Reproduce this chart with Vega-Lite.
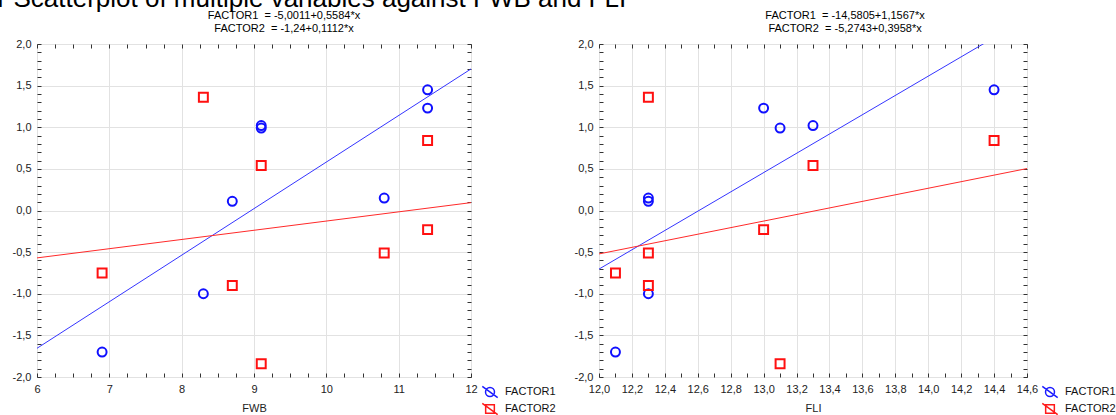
{
  "$schema": "https://vega.github.io/schema/vega-lite/v6.json",
  "padding": {"left": -3, "top": -15, "right": 4, "bottom": 2},
  "background": "white",
  "title": {
    "text": "r Scatterplot of multiple variables against FWB and FLI",
    "anchor": "start",
    "fontSize": 26,
    "fontWeight": "normal",
    "font": "Liberation Sans",
    "color": "#000000",
    "dx": -14,
    "offset": -2
  },
  "config": {
    "font": "Liberation Sans",
    "view": {"stroke": "#333333", "strokeWidth": 1},
    "axis": {
      "labelFont": "Liberation Sans",
      "labelFontSize": 11,
      "labelColor": "#222222",
      "titleFont": "Liberation Sans",
      "titleFontSize": 11,
      "titleFontWeight": "normal",
      "titleColor": "#222222",
      "domain": false,
      "tickColor": "#333333",
      "gridColor": "#e2e2e2",
      "labelFlush": false
    },
    "legend": {
      "orient": "none",
      "title": null,
      "symbolSize": 196,
      "symbolStrokeWidth": 1.5,
      "symbolFillColor": "transparent",
      "symbolOpacity": 1,
      "labelFontSize": 11,
      "labelFont": "Liberation Sans",
      "labelColor": "#111111",
      "rowPadding": -7,
      "labelOffset": 7
    }
  },
  "datasets": {
    "s": [
      {"FWB": 6.9, "FLI": 12.1, "FACTOR1": -1.70, "FACTOR2": -0.75},
      {"FWB": 8.3, "FLI": 12.3, "FACTOR1": -1.00, "FACTOR2": 1.36},
      {"FWB": 8.7, "FLI": 12.3, "FACTOR1": 0.11, "FACTOR2": -0.90},
      {"FWB": 9.1, "FLI": 13.3, "FACTOR1": 1.02, "FACTOR2": 0.54},
      {"FWB": 9.1, "FLI": 13.1, "FACTOR1": 0.99, "FACTOR2": -1.84},
      {"FWB": 10.8, "FLI": 12.3, "FACTOR1": 0.15, "FACTOR2": -0.51},
      {"FWB": 11.4, "FLI": 14.4, "FACTOR1": 1.45, "FACTOR2": 0.84},
      {"FWB": 11.4, "FLI": 13.0, "FACTOR1": 1.23, "FACTOR2": -0.23}
    ]
  },
  "spacing": 16,
  "resolve": {
    "scale": {"color": "independent", "shape": "independent"},
    "legend": {"color": "independent", "shape": "independent"}
  },
  "hconcat": [
    {
      "width": 434,
      "height": 333,
      "title": {
        "text": ["FACTOR1\u00a0 = -5,0011+0,5584*x", "FACTOR2\u00a0 = -1,24+0,1112*x"],
        "fontSize": 11,
        "fontWeight": "normal",
        "lineHeight": 13,
        "offset": 4,
        "frame": "bounds",
        "color": "#000000",
        "font": "Liberation Sans"
      },
      "data": {"name": "s"},
      "transform": [{"fold": ["FACTOR1", "FACTOR2"], "as": ["factor", "value"]}],
      "layer": [
        {
          "transform": [{"regression": "value", "on": "FWB", "groupby": ["factor"], "extent": [6, 12]}],
          "mark": {"type": "line", "clip": true, "strokeWidth": 1},
          "encoding": {
            "x": {
              "field": "FWB", "type": "quantitative",
              "scale": {"domain": [6, 12], "nice": false, "zero": false},
              "axis": {
                "orient": "bottom", "title": "FWB", "titlePadding": 8,
                "values": [6, 6.25, 6.5, 6.75, 7, 7.25, 7.5, 7.75, 8, 8.25, 8.5, 8.75, 9, 9.25, 9.5, 9.75, 10, 10.25, 10.5, 10.75, 11, 11.25, 11.5, 11.75, 12],
                "labelExpr": "abs(datum.value - round(datum.value)) < 0.001 ? format(datum.value, 'd') : ''",
                "grid": true,
                "gridOpacity": {"condition": {"test": "abs(datum.value - round(datum.value)) > 0.001", "value": 0}, "value": 1},
                "tickSize": -4,
                "labelPadding": 10,
                "labelOverlap": false
              }
            },
            "y": {
              "field": "value", "type": "quantitative",
              "scale": {"domain": [-2, 2], "nice": false, "zero": false},
              "axis": {
                "orient": "left", "title": null,
                "values": [-2, -1.9, -1.8, -1.7, -1.6, -1.5, -1.4, -1.3, -1.2, -1.1, -1, -0.9, -0.8, -0.7, -0.6, -0.5, -0.4, -0.3, -0.2, -0.1, 0, 0.1, 0.2, 0.3, 0.4, 0.5, 0.6, 0.7, 0.8, 0.9, 1, 1.1, 1.2, 1.3, 1.4, 1.5, 1.6, 1.7, 1.8, 1.9, 2],
                "labelExpr": "abs(datum.value*2 - round(datum.value*2)) < 0.001 ? replace(replace(format(datum.value, '.1f'), '.', ','), '\u2212', '-') : ''",
                "grid": true,
                "gridOpacity": {"condition": {"test": "abs(datum.value*2 - round(datum.value*2)) > 0.001", "value": 0}, "value": 1},
                "tickSize": -4,
                "labelPadding": 10,
                "labelOverlap": false
              }
            },
            "color": {
              "field": "factor", "type": "nominal",
              "scale": {"domain": ["FACTOR1", "FACTOR2"], "range": ["#3535ff", "#ff2a2a"]},
              "legend": null
            }
          }
        },
        {
          "mark": {"type": "point", "filled": false, "strokeWidth": 2, "size": 80, "opacity": 1},
          "encoding": {
            "x": {
              "field": "FWB", "type": "quantitative",
              "scale": {"domain": [6, 12], "nice": false, "zero": false},
              "axis": {
                "orient": "top", "title": null, "labels": false, "grid": false,
                "values": [6, 6.25, 6.5, 6.75, 7, 7.25, 7.5, 7.75, 8, 8.25, 8.5, 8.75, 9, 9.25, 9.5, 9.75, 10, 10.25, 10.5, 10.75, 11, 11.25, 11.5, 11.75, 12],
                "tickSize": -4
              }
            },
            "y": {
              "field": "value", "type": "quantitative",
              "scale": {"domain": [-2, 2], "nice": false, "zero": false},
              "axis": {
                "orient": "right", "title": null, "labels": false, "grid": false,
                "values": [-2, -1.9, -1.8, -1.7, -1.6, -1.5, -1.4, -1.3, -1.2, -1.1, -1, -0.9, -0.8, -0.7, -0.6, -0.5, -0.4, -0.3, -0.2, -0.1, 0, 0.1, 0.2, 0.3, 0.4, 0.5, 0.6, 0.7, 0.8, 0.9, 1, 1.1, 1.2, 1.3, 1.4, 1.5, 1.6, 1.7, 1.8, 1.9, 2],
                "tickSize": -4
              }
            },
            "color": {
              "field": "factor", "type": "nominal",
              "scale": {"domain": ["FACTOR1", "FACTOR2"], "range": ["#1010ff", "#ff1010"]},
              "legend": null
            },
            "shape": {
              "field": "factor", "type": "nominal",
              "scale": {"domain": ["FACTOR1", "FACTOR2"], "range": ["circle", "square"]},
              "legend": null
            }
          }
        },
        {
          "mark": {"type": "point", "filled": false, "strokeWidth": 1.5, "size": 10, "opacity": 0},
          "encoding": {
            "x": {"field": "FWB", "type": "quantitative", "scale": {"domain": [6, 12], "nice": false, "zero": false}, "axis": null},
            "y": {"field": "value", "type": "quantitative", "scale": {"domain": [-2, 2], "nice": false, "zero": false}, "axis": null},
            "color": {
              "field": "factor", "type": "nominal",
              "scale": {"domain": ["FACTOR1", "FACTOR2"], "range": ["#1a1aff", "#ff1a1a"]},
              "legend": {"legendX": 445, "legendY": 340}
            },
            "shape": {
              "field": "factor", "type": "nominal",
              "scale": {"domain": ["FACTOR1", "FACTOR2"], "range": ["M0.64,0A0.64,0.64,0,1,1,-0.64,0A0.64,0.64,0,1,1,0.64,0ZM-1.1,-0.8L1.1,0.8", "M-0.62,-0.62H0.62V0.62H-0.62ZM-1.1,-0.8L1.1,0.8"]},
              "legend": {"legendX": 445, "legendY": 340}
            }
          }
        }
      ],
      "resolve": {
        "axis": {"x": "independent", "y": "independent"},
        "scale": {"color": "independent", "shape": "independent"},
        "legend": {"color": "independent", "shape": "independent"}
      }
    },
    {
      "width": 428,
      "height": 333,
      "title": {
        "text": ["FACTOR1\u00a0 = -14,5805+1,1567*x", "FACTOR2\u00a0 = -5,2743+0,3958*x"],
        "fontSize": 11,
        "fontWeight": "normal",
        "lineHeight": 13,
        "offset": 4,
        "frame": "bounds",
        "color": "#000000",
        "font": "Liberation Sans"
      },
      "data": {"name": "s"},
      "transform": [{"fold": ["FACTOR1", "FACTOR2"], "as": ["factor", "value"]}],
      "layer": [
        {
          "transform": [{"regression": "value", "on": "FLI", "groupby": ["factor"], "extent": [12, 14.6]}],
          "mark": {"type": "line", "clip": true, "strokeWidth": 1},
          "encoding": {
            "x": {
              "field": "FLI", "type": "quantitative",
              "scale": {"domain": [12, 14.6], "nice": false, "zero": false},
              "axis": {
                "orient": "bottom", "title": "FLI", "titlePadding": 8,
                "values": [12, 12.1, 12.2, 12.3, 12.4, 12.5, 12.6, 12.7, 12.8, 12.9, 13, 13.1, 13.2, 13.3, 13.4, 13.5, 13.6, 13.7, 13.8, 13.9, 14, 14.1, 14.2, 14.3, 14.4, 14.5, 14.6],
                "labelExpr": "abs(datum.value*5 - round(datum.value*5)) < 0.001 ? replace(format(datum.value, '.1f'), '.', ',') : ''",
                "grid": true,
                "gridOpacity": {"condition": {"test": "abs(datum.value*5 - round(datum.value*5)) > 0.001", "value": 0}, "value": 1},
                "tickSize": -4,
                "labelPadding": 10,
                "labelOverlap": false
              }
            },
            "y": {
              "field": "value", "type": "quantitative",
              "scale": {"domain": [-2, 2], "nice": false, "zero": false},
              "axis": {
                "orient": "left", "title": null,
                "values": [-2, -1.9, -1.8, -1.7, -1.6, -1.5, -1.4, -1.3, -1.2, -1.1, -1, -0.9, -0.8, -0.7, -0.6, -0.5, -0.4, -0.3, -0.2, -0.1, 0, 0.1, 0.2, 0.3, 0.4, 0.5, 0.6, 0.7, 0.8, 0.9, 1, 1.1, 1.2, 1.3, 1.4, 1.5, 1.6, 1.7, 1.8, 1.9, 2],
                "labelExpr": "abs(datum.value*2 - round(datum.value*2)) < 0.001 ? replace(replace(format(datum.value, '.1f'), '.', ','), '\u2212', '-') : ''",
                "grid": true,
                "gridOpacity": {"condition": {"test": "abs(datum.value*2 - round(datum.value*2)) > 0.001", "value": 0}, "value": 1},
                "tickSize": -4,
                "labelPadding": 10,
                "labelOverlap": false
              }
            },
            "color": {
              "field": "factor", "type": "nominal",
              "scale": {"domain": ["FACTOR1", "FACTOR2"], "range": ["#3535ff", "#ff2a2a"]},
              "legend": null
            }
          }
        },
        {
          "mark": {"type": "point", "filled": false, "strokeWidth": 2, "size": 80, "opacity": 1},
          "encoding": {
            "x": {
              "field": "FLI", "type": "quantitative",
              "scale": {"domain": [12, 14.6], "nice": false, "zero": false},
              "axis": {
                "orient": "top", "title": null, "labels": false, "grid": false,
                "values": [12, 12.1, 12.2, 12.3, 12.4, 12.5, 12.6, 12.7, 12.8, 12.9, 13, 13.1, 13.2, 13.3, 13.4, 13.5, 13.6, 13.7, 13.8, 13.9, 14, 14.1, 14.2, 14.3, 14.4, 14.5, 14.6],
                "tickSize": -4
              }
            },
            "y": {
              "field": "value", "type": "quantitative",
              "scale": {"domain": [-2, 2], "nice": false, "zero": false},
              "axis": {
                "orient": "right", "title": null, "labels": false, "grid": false,
                "values": [-2, -1.9, -1.8, -1.7, -1.6, -1.5, -1.4, -1.3, -1.2, -1.1, -1, -0.9, -0.8, -0.7, -0.6, -0.5, -0.4, -0.3, -0.2, -0.1, 0, 0.1, 0.2, 0.3, 0.4, 0.5, 0.6, 0.7, 0.8, 0.9, 1, 1.1, 1.2, 1.3, 1.4, 1.5, 1.6, 1.7, 1.8, 1.9, 2],
                "tickSize": -4
              }
            },
            "color": {
              "field": "factor", "type": "nominal",
              "scale": {"domain": ["FACTOR1", "FACTOR2"], "range": ["#1010ff", "#ff1010"]},
              "legend": null
            },
            "shape": {
              "field": "factor", "type": "nominal",
              "scale": {"domain": ["FACTOR1", "FACTOR2"], "range": ["circle", "square"]},
              "legend": null
            }
          }
        },
        {
          "mark": {"type": "point", "filled": false, "strokeWidth": 1.5, "size": 10, "opacity": 0},
          "encoding": {
            "x": {"field": "FLI", "type": "quantitative", "scale": {"domain": [12, 14.6], "nice": false, "zero": false}, "axis": null},
            "y": {"field": "value", "type": "quantitative", "scale": {"domain": [-2, 2], "nice": false, "zero": false}, "axis": null},
            "color": {
              "field": "factor", "type": "nominal",
              "scale": {"domain": ["FACTOR1", "FACTOR2"], "range": ["#1a1aff", "#ff1a1a"]},
              "legend": {"legendX": 443, "legendY": 340}
            },
            "shape": {
              "field": "factor", "type": "nominal",
              "scale": {"domain": ["FACTOR1", "FACTOR2"], "range": ["M0.64,0A0.64,0.64,0,1,1,-0.64,0A0.64,0.64,0,1,1,0.64,0ZM-1.1,-0.8L1.1,0.8", "M-0.62,-0.62H0.62V0.62H-0.62ZM-1.1,-0.8L1.1,0.8"]},
              "legend": {"legendX": 443, "legendY": 340}
            }
          }
        }
      ],
      "resolve": {
        "axis": {"x": "independent", "y": "independent"},
        "scale": {"color": "independent", "shape": "independent"},
        "legend": {"color": "independent", "shape": "independent"}
      }
    }
  ]
}
